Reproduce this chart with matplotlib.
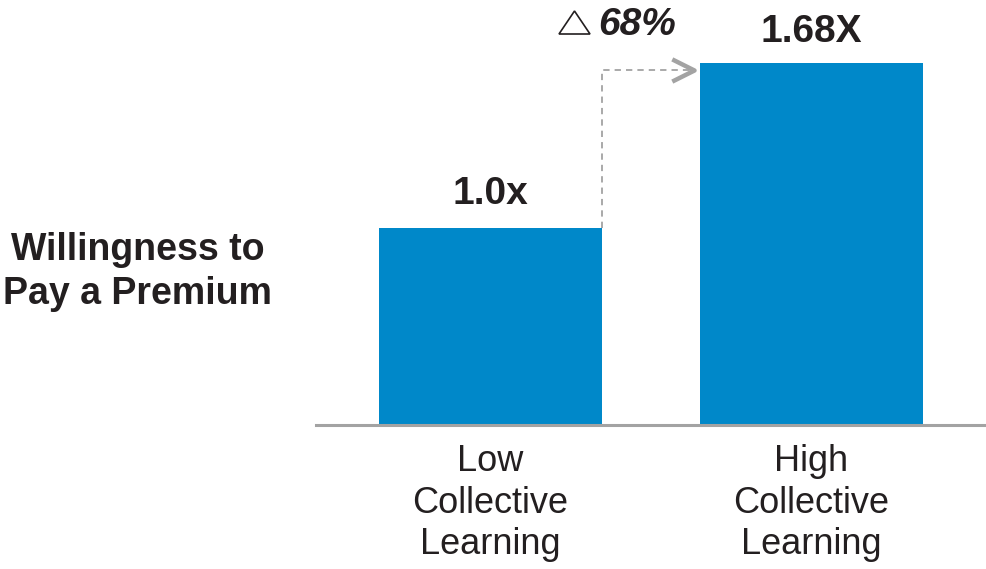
import matplotlib
matplotlib.use('Agg')
import matplotlib.pyplot as plt
from matplotlib.path import Path
from matplotlib.patches import Polygon

plt.rcParams['font.family'] = ['Liberation Sans', 'DejaVu Sans']

# Premium multiplier by level of collective learning
categories = ['Low\nCollective\nLearning', 'High\nCollective\nLearning']
premium = [1.0, 1.68]
value_labels = ['1.0x', '1.68X']
uplift_label = '68%'
y_title = 'Willingness to\nPay a Premium'

BAR_BLUE = '#0088c9'
TEXT = '#231f20'
GREY = '#a3a3a3'

W, H = 987, 569
fig = plt.figure(figsize=(W / 100, H / 100), dpi=100)

# truncated value axis so the step between the bars reads clearly
base = 0.19
px_per_unit = 243.2
ax = fig.add_axes([316 / W, 144 / H, 671 / W, 425 / H])
ax.set_ylim(base, base + 425 / px_per_unit)
ax.set_xlim(-0.5436, 1.5467)

x = list(range(len(categories)))
bar_w = 0.695
ax.bar(x, premium, width=bar_w, color=BAR_BLUE, zorder=2)

label_gap = [17, 15]
for xi, v, lab, gap in zip(x, premium, value_labels, label_gap):
    ax.annotate(lab, (xi, v), xytext=(0, gap), textcoords='offset points',
                ha='center', va='baseline', fontsize=28, fontweight='bold', color=TEXT)

# dashed step arrow from low bar up to the high bar
x_edge = x[0] + bar_w / 2
y_arrow = premium[1] - 7 / px_per_unit
x_tip = x[1] - bar_w / 2 - 6 / 321
ax.plot([x_edge, x_edge, x_tip], [premium[0], y_arrow, y_arrow],
        ls=(0, (3.5, 2.8)), lw=1.3, color=GREY, zorder=3)
chevron = Path([(-1, 0.5), (0, 0), (-1, -0.5)],
               [Path.MOVETO, Path.LINETO, Path.LINETO])
ax.plot([x_tip], [y_arrow], marker=chevron, ms=32, mfc='none', mec=GREY,
        mew=3.2, zorder=4, clip_on=False)

# delta triangle + uplift text
tri = Polygon([(559 / W, 1 - 34 / H), (590 / W, 1 - 34 / H), (574.5 / W, 1 - 11 / H)],
              closed=True, fill=False, ec=TEXT, lw=1.2, transform=fig.transFigure)
fig.patches.append(tri)
fig.text(598 / W, 1 - 35 / H, uplift_label, ha='left', va='baseline', fontsize=28,
         fontweight='bold', fontstyle='italic', color=TEXT)

ax.set_xticks(x)
ax.set_xticklabels(categories, fontsize=26, color=TEXT, linespacing=1.23)
ax.tick_params(axis='x', length=0, pad=14)
ax.set_yticks([])
for side in ['top', 'right', 'left']:
    ax.spines[side].set_visible(False)
ax.spines['bottom'].set_color(GREY)
ax.spines['bottom'].set_linewidth(2.2)

fig.text(138 / W, 1 - 272 / H, y_title, ha='center', va='center', fontsize=27,
         fontweight='bold', color=TEXT, linespacing=1.28)

fig.savefig('out.png', dpi=100)
